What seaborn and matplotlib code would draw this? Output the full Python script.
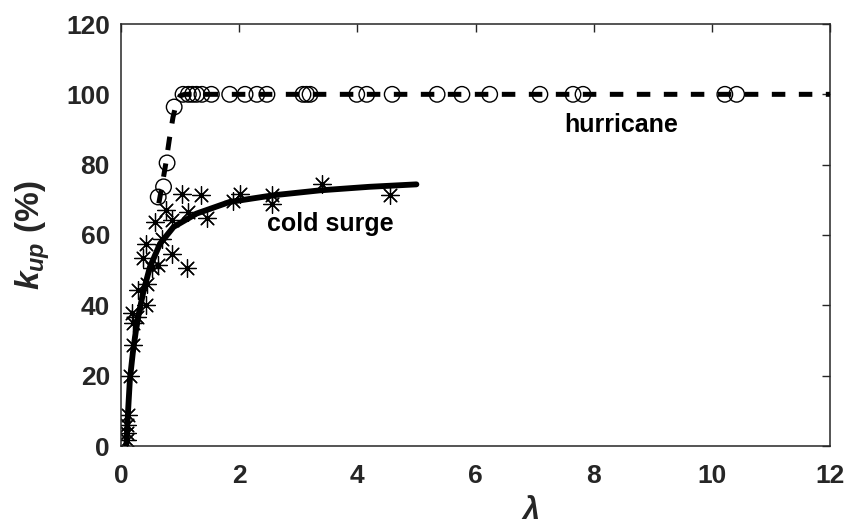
import matplotlib
matplotlib.use("Agg")
import matplotlib.pyplot as plt
import seaborn as sns
import pandas as pd

# Hurricane cases: lambda vs k_up (%)
hurr_lambda = [0.63, 0.72, 0.78, 0.90, 1.05, 1.14, 1.21, 1.28, 1.37, 1.53,
               1.84, 2.10, 2.30, 2.47, 3.08, 3.14, 3.20, 3.99, 4.16, 4.59,
               5.35, 5.77, 6.24, 7.09, 7.65, 7.82, 10.22, 10.42]
hurr_kup = [70.8, 73.7, 80.5, 96.4, 100, 100, 100, 100, 100, 100,
            100, 100, 100, 100, 100, 100, 100, 100, 100, 100,
            100, 100, 100, 100, 100, 100, 100, 100]

# Cold surge cases
cold_lambda = [0.10, 0.10, 0.10, 0.12, 0.15, 0.21, 0.21, 0.27, 0.18, 0.42,
               0.29, 0.44, 0.52, 0.63, 1.11, 0.37, 0.86, 0.43, 0.69, 0.58,
               0.86, 1.45, 0.77, 1.14, 1.03, 1.35, 1.90, 2.01, 2.55, 2.55,
               3.40, 4.55]
cold_kup = [1.7, 3.6, 6.0, 8.8, 19.9, 28.7, 34.9, 36.7, 37.7, 40.2,
            44.3, 46.0, 50.7, 51.4, 50.5, 53.5, 54.7, 57.4, 59.0, 63.7,
            64.2, 64.9, 67.0, 66.5, 71.8, 71.3, 69.6, 71.8, 71.3, 68.7,
            74.4, 71.3]

# Fitted curves
hurr_fit_lambda = [0.64, 0.70, 0.76, 0.82, 0.88, 0.94, 1.00, 1.08, 12.0]
hurr_fit_kup = [69.0, 74.5, 80.5, 87.4, 93.5, 97.6, 99.6, 100.0, 100.0]
cold_fit_lambda = [0.09, 0.12, 0.15, 0.20, 0.25, 0.30, 0.38, 0.49, 0.66,
                   0.89, 1.28, 1.84, 2.58, 3.37, 4.20, 5.00]
cold_fit_kup = [0.0, 10.0, 18.8, 26.5, 32.5, 37.5, 44.0, 50.9, 57.5,
                62.3, 66.1, 69.4, 71.3, 72.7, 73.7, 74.4]

x_ticks = [0, 2, 4, 6, 8, 10, 12]
y_ticks = [0, 20, 40, 60, 80, 100, 120]

sns.set_theme(style="white")
plt.rcParams["font.family"] = ["Liberation Sans", "DejaVu Sans"]
plt.rcParams["mathtext.fontset"] = "custom"
plt.rcParams["mathtext.it"] = "Liberation Sans:italic:bold"
plt.rcParams["mathtext.rm"] = "Liberation Sans:bold"

axis_col = "#262626"

fig = plt.figure(figsize=(8.47, 5.28), dpi=100)
ax = fig.add_axes([121 / 847, 82 / 528, 709 / 847, 422 / 528])

hurr_df = pd.DataFrame({"lam": hurr_lambda, "kup": hurr_kup})
cold_df = pd.DataFrame({"lam": cold_lambda, "kup": cold_kup})
hfit_df = pd.DataFrame({"lam": hurr_fit_lambda, "kup": hurr_fit_kup})
cfit_df = pd.DataFrame({"lam": cold_fit_lambda, "kup": cold_fit_kup})

# open circles for hurricanes, asterisks for cold surges
sns.scatterplot(data=hurr_df, x="lam", y="kup", ax=ax, marker="o",
                s=125, facecolors="none", edgecolor="black", linewidth=1.0,
                zorder=2)
sns.scatterplot(data=cold_df, x="lam", y="kup", ax=ax, marker=(8, 2, 0),
                s=165, color="black", linewidth=0.9, zorder=2)

# fitted curves: dashed for hurricanes, solid for cold surges
sns.lineplot(data=hfit_df, x="lam", y="kup", ax=ax, sort=False,
             estimator=None, color="black", linewidth=3.6,
             dashes=False, zorder=3).lines[-1].set_dashes((2.7, 2.7))
sns.lineplot(data=cfit_df, x="lam", y="kup", ax=ax, sort=False,
             estimator=None, color="black", linewidth=4.2, zorder=3)

ax.set_xlim(0, 12)
ax.set_ylim(0, 120)
ax.set_xticks(x_ticks)
ax.set_yticks(y_ticks)
ax.set_xticklabels([str(t) for t in x_ticks])
ax.set_yticklabels([str(t) for t in y_ticks])
ax.tick_params(axis="both", which="major", direction="in", length=6,
               width=1.0, color=axis_col, labelsize=19, labelcolor=axis_col,
               top=True, right=True)
ax.tick_params(axis="x", pad=13)
ax.tick_params(axis="y", pad=8)
for lab in ax.get_xticklabels() + ax.get_yticklabels():
    lab.set_fontweight("bold")
for sp in ax.spines.values():
    sp.set_visible(True)
    sp.set_color(axis_col)
    sp.set_linewidth(1.1)

ax.set_xlabel("")
ax.set_ylabel(r"$k_{up}$ (%)", fontsize=24, fontweight="bold",
              color=axis_col, labelpad=10)

ax.text(8.46, 91.2, "hurricane", fontsize=18, fontweight="bold",
        ha="center", va="center", color="black")
ax.text(3.54, 63.0, "cold surge", fontsize=18, fontweight="bold",
        ha="center", va="center", color="black")

fig.text(530 / 847, 1 - 526 / 528, r"$\lambda$", fontsize=22,
         ha="center", va="bottom", color=axis_col)

fig.savefig("out.png", dpi=100)
